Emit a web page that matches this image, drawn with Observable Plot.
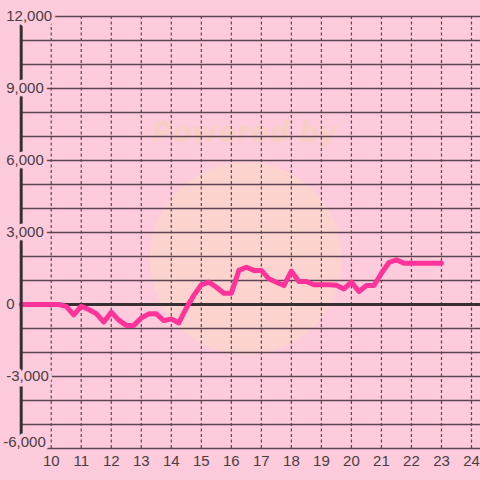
<!DOCTYPE html>
<html><head><meta charset="utf-8">
<script src="https://cdn.jsdelivr.net/npm/d3@7"></script>
<script src="https://cdn.jsdelivr.net/npm/@observablehq/plot@0.6"></script>
<style>
html,body{margin:0;padding:0;background:#fdcbdb;}
#chart svg{display:block}
</style></head><body><div id="chart"></div>
<script>
const hours = [9, 9.25, 9.5, 9.75, 10, 10.25, 10.5, 10.75, 11, 11.25, 11.5, 11.75,
  12, 12.25, 12.5, 12.75, 13, 13.25, 13.5, 13.75, 14, 14.25, 14.5, 14.75,
  15, 15.25, 15.5, 15.75, 16, 16.25, 16.5, 16.75, 17, 17.25, 17.5, 17.75,
  18, 18.25, 18.5, 18.75, 19, 19.25, 19.5, 19.75, 20, 20.25, 20.5, 20.75,
  21, 21.25, 21.5, 21.75, 22, 22.25, 22.5, 22.75, 23];
const values = [0, 0, 0, 0, 0, 0, -80, -430, -70, -210, -380, -730,
  -320, -650, -870, -870, -560, -390, -390, -670, -600, -770, -150, 380,
  820, 930, 720, 470, 470, 1420, 1550, 1420, 1420, 1070, 930, 790,
  1390, 960, 960, 820, 820, 820, 800, 650, 930, 540, 790, 790,
  1300, 1750, 1860, 1720, 1720, 1720, 1720, 1720, 1720];
const xTicks = [10, 11, 12, 13, 14, 15, 16, 17, 18, 19, 20, 21, 22, 23, 24];
const yTicks = [-6000, -3000, 0, 3000, 6000, 9000, 12000];
const yGrid = [-6000, -5000, -4000, -3000, -2000, -1000, 1000, 2000, 3000, 4000, 5000, 6000, 7000, 8000, 9000, 10000, 11000, 12000];
const watermark = ["Powered by"];

const data = hours.map((h, i) => ({h, v: values[i]}));
const bg = "#fdcbdb";
const textColor = "#4a3c44";
const gridColor = "#5e4452";
const axisColor = "#363033";
const fmt = d => d.toLocaleString("en-US");
const font = "'Liberation Sans', Arial, sans-serif";

const chart = Plot.plot({
  width: 480, height: 480,
  marginLeft: 20.7, marginRight: 0, marginTop: 16, marginBottom: 32,
  style: {background: bg, fontFamily: font, fontSize: "15px", color: textColor, overflow: "visible"},
  x: {domain: [9, 24.3], axis: null},
  y: {domain: [-6000, 12000], axis: null},
  marks: [
    Plot.dot([0], {frameAnchor: "middle", dx: -5, dy: 26, r: 96, fill: "#fcd6cb", fillOpacity: 0.75, stroke: "none"}),
    Plot.text(watermark, {frameAnchor: "middle", dx: -6, dy: -99, text: d => d, fontFamily: "'DejaVu Sans', sans-serif", fontWeight: "bold", fontStyle: "italic", fontSize: 28, fill: "#f8cfc4"}),
    Plot.ruleY(yGrid, {stroke: gridColor, strokeWidth: 1.4}),
    Plot.ruleX(xTicks, {y1: -6000, y2: 12000, stroke: gridColor, strokeDasharray: "3,2.5", strokeWidth: 1.2}),
    Plot.ruleY([0], {stroke: axisColor, strokeWidth: 3}),
    Plot.line(data, {x: "h", y: "v", stroke: "#ff3399", strokeWidth: 5}),
    Plot.ruleX([9], {stroke: axisColor, strokeWidth: 3}),
    Plot.text(yTicks.filter(d => d !== -6000), {y: d => d, frameAnchor: "left", dx: -15, textAnchor: "start", text: fmt, fontSize: 15, fontFamily: font, fill: textColor, stroke: bg, strokeWidth: 7, paintOrder: "stroke"}),
    Plot.text(yTicks.filter(d => d === -6000), {y: d => d, frameAnchor: "left", dx: -18, dy: -6, textAnchor: "start", text: fmt, fontSize: 15, fontFamily: font, fill: textColor, stroke: bg, strokeWidth: 8, paintOrder: "stroke"}),
    Plot.text(xTicks, {x: d => d, frameAnchor: "bottom", lineAnchor: "middle", dy: 13, text: d => String(d), fontSize: 15, fontFamily: font, fill: textColor})
  ]
});
document.getElementById("chart").append(chart);
</script></body></html>
